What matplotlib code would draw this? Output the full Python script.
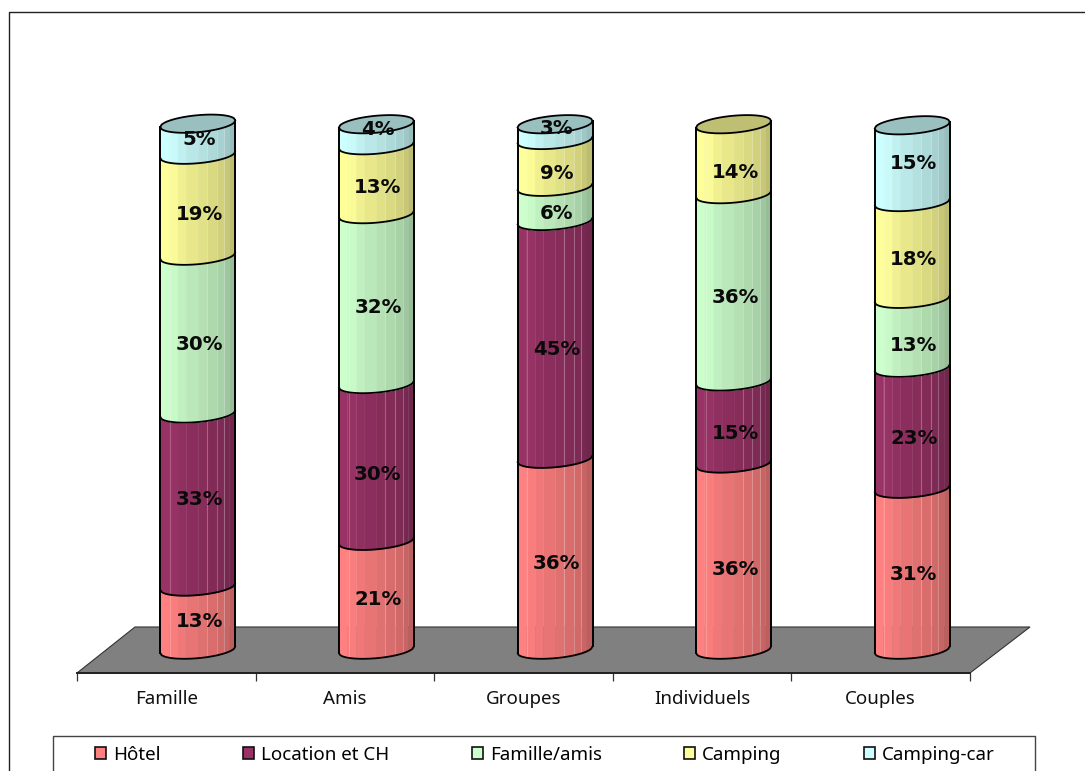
import numpy as np
import matplotlib
matplotlib.use("Agg")
import matplotlib.pyplot as plt
from matplotlib.lines import Line2D
from matplotlib.patches import Patch, Polygon

categories = ["Famille", "Amis", "Groupes", "Individuels", "Couples"]
series_names = ["Hôtel", "Location et CH", "Famille/amis", "Camping", "Camping-car"]

hotel = [12.0, 20.7, 36.3, 35.4, 30.6]
location = [32.9, 29.8, 45.2, 15.6, 23.0]
famille_amis = [30.0, 32.3, 6.5, 35.6, 13.1]
camping = [19.2, 13.1, 8.9, 13.3, 18.4]
camping_car = [5.9, 4.0, 3.0, 0.0, 14.6]

hotel_labels = ["13%", "21%", "36%", "36%", "31%"]
location_labels = ["33%", "30%", "45%", "15%", "23%"]
famille_amis_labels = ["30%", "32%", "6%", "36%", "13%"]
camping_labels = ["19%", "13%", "9%", "14%", "18%"]
camping_car_labels = ["5%", "4%", "3%", "", "15%"]

colors = ["#FF8080", "#993366", "#CCFFCC", "#FFFF99", "#CCFFFF"]

W, H = 1085, 771
FONT = "Noto Sans"
fig = plt.figure(figsize=(W / 100, H / 100), dpi=100, facecolor="white")

# pixel geometry of the plot
x_left, x_right, y_floor, y_zero, y_hundred, y_top = 77, 970, 673, 653, 127, 100
sx = (x_right - x_left) / len(categories)
sy = (y_zero - y_hundred) / 100
ax = fig.add_axes([x_left / W, 1 - y_floor / H, (x_right - x_left) / W, (y_floor - y_top) / H])
ax.set_xlim(-0.5, len(categories) - 0.5)
ax.set_ylim(-(y_floor - y_zero) / sy, (y_zero - y_top) / sy)
ax.patch.set_visible(False)
for side in ("left", "right", "top"):
    ax.spines[side].set_visible(False)
ax.spines["bottom"].set_linewidth(1.4)
ax.spines["bottom"].set_color("#222222")
ax.set_yticks([])
ax.set_xticks(np.arange(len(categories) + 1) - 0.5)
ax.set_xticklabels([])
ax.set_xticks(np.arange(len(categories)), minor=True)
ax.set_xticklabels(categories, minor=True, fontsize=13.5, family=FONT, color="#111111")
ax.tick_params(axis="x", which="major", length=6, width=0.9, color="#333333")
ax.tick_params(axis="x", which="minor", length=0, pad=12.5)

# floor
y0 = ax.get_ylim()[0]
back = y0 + 46 / sy
ax.add_patch(Polygon([(-0.5, y0), (4.5, y0), (4.5 + 60 / sx, back), (-0.5 + 58 / sx, back)],
                     closed=True, fc="#808080", ec="#333333", lw=0.8, clip_on=False, zorder=1))

# cylinder shape
half_w = 37.5 / sx
offset = 31.5 / sx
el_b, el_s = 8.5, 3.3
strip_edges = np.array([0, .11, .23, .34, .50, .62, .75, .85, .92, 1.0])
strip_shades = [1.0, .98, .94, .91, .88, .85, .82, .78, .74]
seam_fracs = [.13, .62, .75, .85]
label_shift_px = [[4, 4, 9, 13, 5], [0, 12, 10, 11, 10], [10, 9, 10, 10, 12],
                  [9, 8, 10, 13, 9], [0, -5, -3, 0, 0]]


def curve(u, upper=False):
    """Vertical offset (data units) of the elliptical rim from its left end."""
    root = np.sqrt(np.clip(1 - u ** 2, 0, 1))
    px = (-el_b if upper else el_b) * root - el_s * (u + 1)
    return -px / sy


def shade(color, f):
    return tuple(c * f for c in matplotlib.colors.to_rgb(color))


series = [hotel, location, famille_amis, camping, camping_car]
labels = [hotel_labels, location_labels, famille_amis_labels, camping_labels, camping_car_labels]

for i in range(len(categories)):
    cx = i + offset
    base = 0.0
    last_color = None
    for values, color in zip(series, colors):
        v = values[i]
        if v <= 0:
            continue
        top = base + v
        for k, f in enumerate(strip_shades):
            us = np.linspace(strip_edges[k], strip_edges[k + 1], 10) * 2 - 1
            xs = cx + us * half_w
            ax.fill_between(xs, base + curve(us), top + curve(us), color=shade(color, f),
                            lw=0.25, zorder=3, clip_on=False)
        for fr in seam_fracs:
            u = fr * 2 - 1
            ax.plot([cx + u * half_w] * 2, [base + curve(np.array(u)), top + curve(np.array(u))],
                    color="white", alpha=0.22, lw=0.8, zorder=3.2, clip_on=False)
        us = np.linspace(-1, 1, 60)
        ax.plot(cx + us * half_w, base + curve(us), color="black", lw=1.3, zorder=4,
                solid_capstyle="round", clip_on=False)
        base = top
        last_color = color
    # sides
    for side in (-1, 1):
        u = np.array(float(side))
        ax.plot([cx + side * half_w] * 2, [curve(u), base + curve(u)], color="black", lw=1.4,
                zorder=4, clip_on=False)
    # cap
    us = np.linspace(-1, 1, 60)
    xs = np.r_[cx + us * half_w, cx + us[::-1] * half_w]
    ys = np.r_[base + curve(us), base + curve(us[::-1], upper=True)]
    ax.add_patch(Polygon(np.c_[xs, ys], closed=True, fc=shade(last_color, .75), ec="black",
                         lw=1.3, zorder=5, clip_on=False))
    # data labels
    base = 0.0
    for values, texts, shifts in zip(series, labels, label_shift_px):
        v = values[i]
        if v > 0:
            ax.text(cx + 1.5 / sx, base + v / 2 + (3.5 - shifts[i]) / sy, texts[i], ha="center",
                    va="center", fontsize=14.2, fontweight="bold", family="DejaVu Sans",
                    color="#0a0a0a", zorder=6)
        base += v


# chart-area and legend frames, both cut off by the picture edge
def fig_line(px, py, color="#222222", lw=1.0):
    fig.add_artist(Line2D([p / W for p in px], [1 - p / H for p in py], color=color, lw=lw))


fig_line([9, 9, W], [H, 12, 12])
fig_line([53, 53, 1035, 1035], [H, 736, 736, H], color="#444444")

handles = [Patch(fc=c, ec="#111111", lw=1.2) for c in colors]
leg_fs = 13.5
fig.legend(handles, series_names, ncols=5, frameon=False, loc="center left",
           bbox_to_anchor=(95 / W, 1 - 755 / H), borderaxespad=0, borderpad=0,
           prop={"family": FONT, "size": leg_fs},
           handlelength=0.6, handleheight=0.6, handletextpad=0.38,
           columnspacing=82 / (leg_fs * 100 / 72))

fig.savefig("out.png", dpi=100)
